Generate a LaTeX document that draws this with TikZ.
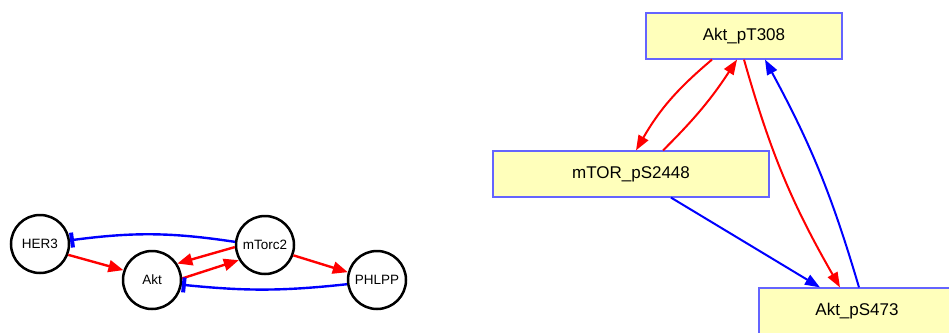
\documentclass[tikz,border=0pt]{standalone}
\usepackage{fontspec}
\setmainfont{Liberation Sans}
\usetikzlibrary{arrows.meta}
\definecolor{boxfill}{RGB}{255,255,187}
\definecolor{boxline}{RGB}{100,100,255}
\tikzset{
  x=1pt, y=1pt,
  species/.style={circle, draw=black, line width=2.5pt, minimum size=58pt, inner sep=0pt,
    font=\fontsize{13.5}{16}\selectfont},
  state/.style={rectangle, draw=boxline, line width=1.2pt, fill=boxfill, minimum height=46pt,
    inner sep=0pt, font=\fontsize{17}{20}\selectfont},
  act/.style={draw=red, line width=2.4pt, -{Triangle[length=15pt,width=12pt]}},
  inh/.style={draw=blue, line width=2.4pt, -{Bar[width=15pt,line width=4pt]}},
  actr/.style={draw=red, line width=2pt, -{Triangle[length=15pt,width=11pt]}},
  actb/.style={draw=blue, line width=2pt, -{Triangle[length=15pt,width=11pt]}},
}
\begin{document}
\begin{tikzpicture}
\useasboundingbox (0,0) rectangle (949,-332);
\clip (0,0) rectangle (949,-332);

% interaction graph
\node[species] (her3) at (40,-244) {HER3};
\node[species] (akt) at (152,-280) {Akt};
\node[species] (mtorc) at (265,-245) {mTorc2};
\node[species] (phlpp) at (377,-280) {PHLPP};

\draw[act] (her3.-21) -- (akt.161);
\draw[act] (mtorc.184) -- (akt.33);
\draw[act] (akt.3) -- (mtorc.210);
\draw[act] (mtorc.-20) -- (phlpp.165);
\draw[inh] (mtorc.174) to[bend right=8] (her3.7);
\draw[inh] (phlpp.188) to[bend left=6] (akt.-9);

% phosphosite graph
\node[state, minimum width=196pt] (t308) at (744,-36) {Akt\_pT308};
\node[state, minimum width=276pt] (s2448) at (631,-174) {mTOR\_pS2448};
\node[state, minimum width=196pt] (s473) at (857,-311) {Akt\_pS473};

\draw[actr] ([xshift=-32pt]t308.south) to[bend right=10] ([xshift=5pt]s2448.north);
\draw[actr] ([xshift=32pt]s2448.north) to[bend right=6] ([xshift=-7pt]t308.south);
\draw[actr] (t308.south) to[bend right=7] ([xshift=-17pt]s473.north);
\draw[actb] ([xshift=2pt]s473.north) to[bend right=6] ([xshift=21pt]t308.south);
\draw[actb] ([xshift=40pt]s2448.south) -- ([xshift=-37pt]s473.north);
\end{tikzpicture}
\end{document}
